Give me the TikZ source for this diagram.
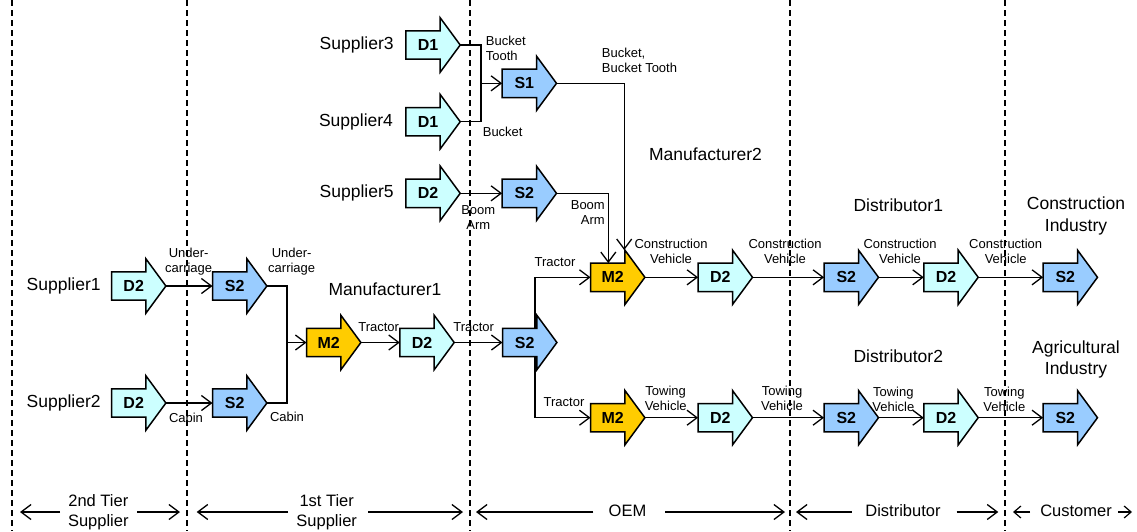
\documentclass[tikz,border=0pt]{standalone}
\usepackage{fontspec}
\setmainfont{Liberation Sans}
\usetikzlibrary{arrows.meta}
\pgfdeclarelayer{background}
\pgfsetlayers{background,main}

\definecolor{dfill}{HTML}{CCFFFF}
\definecolor{sfill}{HTML}{99CCFF}
\definecolor{mfill}{HTML}{FFCC00}

\tikzset{
  boxbase/.style={rectangle, minimum width=54pt, minimum height=28pt, inner sep=0pt,
                  font=\fontsize{16}{18}\selectfont\bfseries},
  boxline/.style={draw=black, line width=1.5pt, line join=miter},
  link/.style={line width=1.3pt},
  flow/.style={line width=1.3pt, -{Straight Barb[length=10pt,width=15pt]}},
  span/.style={line width=1.3pt, -{Straight Barb[length=10pt,width=15pt]}},
  tinyspan/.style={line width=1.2pt, -{Straight Barb[length=7pt,width=12pt]}},
  divider/.style={line width=1.2pt, dash pattern=on 6pt off 4pt},
  small/.style={font=\fontsize{13}{15}\selectfont, align=center, inner sep=0pt},
  big/.style={font=\fontsize{17.5}{21.5}\selectfont, align=center, inner sep=0pt},
  phase/.style={font=\fontsize{16.5}{19.5}\selectfont, align=center, inner sep=0pt},
}

% block arrow: name, left x, centre y, fill colour, text
\newcommand\flowbox[5]{%
  \node[boxbase] (#1) at (#2+27,#3) {\hspace*{-10pt}#5};
  \begin{pgfonlayer}{background}
    \filldraw[boxline, fill=#4] (#1.south west)
      -- ([xshift=-20pt]#1.south east)
      -- ([xshift=-20pt,yshift=-13pt]#1.south east)
      -- (#1.east)
      -- ([xshift=-20pt,yshift=13pt]#1.north east)
      -- ([xshift=-20pt]#1.north east)
      -- (#1.north west) -- cycle;
  \end{pgfonlayer}
}

\begin{document}
\begin{tikzpicture}[x=1pt,y=-1pt]
\useasboundingbox (0,0) rectangle (1137,531);
\begin{pgfonlayer}{background}
  \fill[white] (0,0) rectangle (1137,531);
\end{pgfonlayer}

% stage dividers
\foreach \xd in {12,187,470,790,1005}
  \draw[divider] (\xd,0) -- (\xd,531);

% ---- first and second tier suppliers
\flowbox{supthreed}{406}{45}{dfill}{D1}
\flowbox{supfourd}{406}{121.7}{dfill}{D1}
\flowbox{sone}{502.3}{83.3}{sfill}{S1}
\flowbox{supfived}{406}{193.3}{dfill}{D2}
\flowbox{stwotop}{502.3}{193.3}{sfill}{S2}

\flowbox{suponed}{111.7}{286}{dfill}{D2}
\flowbox{suptwod}{111.7}{403}{dfill}{D2}
\flowbox{sa}{212.7}{286}{sfill}{S2}
\flowbox{sb}{212.7}{403}{sfill}{S2}
\flowbox{ma}{306.7}{342.5}{mfill}{M2}
\flowbox{da}{400}{342.5}{dfill}{D2}
\flowbox{so}{502.7}{342.5}{sfill}{S2}

% ---- construction vehicle chain
\flowbox{mu}{590.7}{277.3}{mfill}{M2}
\flowbox{du}{698.3}{277.3}{dfill}{D2}
\flowbox{sdu}{824.3}{277.3}{sfill}{S2}
\flowbox{ddu}{924}{277.3}{dfill}{D2}
\flowbox{scu}{1043.3}{277.3}{sfill}{S2}

% ---- towing vehicle chain
\flowbox{ml}{590.7}{417.7}{mfill}{M2}
\flowbox{dl}{698.3}{417.7}{dfill}{D2}
\flowbox{sdl}{824.3}{417.7}{sfill}{S2}
\flowbox{ddl}{924}{417.7}{dfill}{D2}
\flowbox{scl}{1043.3}{417.7}{sfill}{S2}

% ---- connectors
\coordinate (jt) at (481,83.3);
\draw[link] (supthreed.east) -| (jt);
\draw[link] (supfourd.east) -| (jt);
\draw[flow] (jt) -- (sone.west);
\draw[flow] (supfived.east) -- (stwotop.west);
\coordinate (muhead) at ([xshift=6.5pt,yshift=13pt]mu.north);
\coordinate (mutop) at ([xshift=-9.4pt]mu.north);
\draw[flow] (sone.east) -| (muhead);
\draw[flow] (stwotop.east) -| (mutop);

\draw[flow] (suponed.east) -- (sa.west);
\draw[flow] (suptwod.east) -- (sb.west);
\coordinate (jl) at (287,342.5);
\draw[link] (sa.east) -| (jl);
\draw[link] (sb.east) -| (jl);
\draw[flow] (jl) -- (ma.west);
\draw[flow] (ma.east) -- (da.west);
\draw[flow] (da.east) -- (so.west);
\coordinate (soup) at ([xshift=5.3pt]so.north);
\coordinate (sodown) at ([xshift=5.3pt]so.south);
\draw[flow] (soup) |- (mu.west);
\draw[flow] (sodown) |- (ml.west);

\draw[flow] (mu.east) -- (du.west);
\draw[flow] (du.east) -- (sdu.west);
\draw[flow] (sdu.east) -- (ddu.west);
\draw[flow] (ddu.east) -- (scu.west);
\draw[flow] (ml.east) -- (dl.west);
\draw[flow] (dl.east) -- (sdl.west);
\draw[flow] (sdl.east) -- (ddl.west);
\draw[flow] (ddl.east) -- (scl.west);

% ---- company names
\node[big] (nsup1) at (63.7,286) {Supplier1};
\node[big] (nsup2) at (63.7,403) {Supplier2};
\node[big] (nsup3) at (356.7,45) {Supplier3};
\node[big] (nsup4) at (356,121.7) {Supplier4};
\node[big] (nsup5) at (356.7,193.3) {Supplier5};
\node[big] (nman1) at (385,289) {Manufacturer1};
\node[big] (nman2) at (705.5,154) {Manufacturer2};
\node[big] (ndis1) at (898.3,205) {Distributor1};
\node[big] (ndis2) at (898.3,356) {Distributor2};
\node[big] (ncons) at (1076,216) {Construction\\Industry};
\node[big] (nagri) at (1076,359.5) {Agricultural\\Industry};

% ---- product labels
\node[small] (lu1) at (188.7,261.5) {Under-\\carriage};
\node[small] (lu2) at (291.7,261.5) {Under-\\carriage};
\node[small] (lc1) at (186,418) {Cabin};
\node[small] (lc2) at (287,417) {Cabin};
\node[small] (lt1) at (378.7,326.7) {Tractor};
\node[small] (lt2) at (473.7,326.7) {Tractor};
\node[small] (lt3) at (555,262.3) {Tractor};
\node[small] (lt4) at (564,401.7) {Tractor};
\node[small] (lcv1) at (671,251.7) {Construction\\Vehicle};
\node[small] (lcv2) at (785,251.7) {Construction\\Vehicle};
\node[small] (lcv3) at (900,251.3) {Construction\\Vehicle};
\node[small] (lcv4) at (1005.7,251.3) {Construction\\Vehicle};
\node[small] (ltv1) at (665.7,398.7) {Towing\\Vehicle};
\node[small] (ltv2) at (782,398.7) {Towing\\Vehicle};
\node[small] (ltv3) at (893.3,399.2) {Towing\\Vehicle};
\node[small] (ltv4) at (1004.3,399.2) {Towing\\Vehicle};
\node[small, align=left, anchor=west] (lbt) at (485.7,48.7) {Bucket\\Tooth};
\node[small] (lbk) at (502.7,131.7) {Bucket};
\node[small, align=left, anchor=west] (lbbt) at (601.7,60) {Bucket,\\Bucket Tooth};
\node[small] (lba1) at (478.3,217.8) {Boom\\Arm};
\node[small, align=right, anchor=east] (lba2) at (605,213) {Boom\\Arm};

% ---- supply chain stages
\node[phase] (ph1) at (98.3,512) {2nd Tier\\Supplier};
\node[phase] (ph2) at (326.7,512) {1st Tier\\Supplier};
\node[phase] (ph3) at (627.5,511) {OEM};
\node[phase] (ph4) at (903,511) {Distributor};
\node[phase] (ph5) at (1076,511) {Customer};

\coordinate (ph1a) at (60,512);    \coordinate (ph1l) at (20,512);
\coordinate (ph1b) at (137,512);   \coordinate (ph1r) at (180,512);
\coordinate (ph2a) at (288,512);   \coordinate (ph2l) at (196.7,512);
\coordinate (ph2b) at (368,512);   \coordinate (ph2r) at (463,512);
\coordinate (ph3a) at (593.3,512); \coordinate (ph3l) at (476,512);
\coordinate (ph3b) at (665,512);   \coordinate (ph3r) at (785,512);
\coordinate (ph4a) at (851.7,512); \coordinate (ph4l) at (796,512);
\coordinate (ph4b) at (956.7,512); \coordinate (ph4r) at (998.3,512);
\coordinate (ph5a) at (1030,512);  \coordinate (ph5l) at (1013,512);
\coordinate (ph5b) at (1118,512);  \coordinate (ph5r) at (1132,512);
\draw[span] (ph1a) -- (ph1l);
\draw[span] (ph1b) -- (ph1r);
\draw[span] (ph2a) -- (ph2l);
\draw[span] (ph2b) -- (ph2r);
\draw[span] (ph3a) -- (ph3l);
\draw[span] (ph3b) -- (ph3r);
\draw[span] (ph4a) -- (ph4l);
\draw[span] (ph4b) -- (ph4r);
\draw[tinyspan] (ph5a) -- (ph5l);
\draw[tinyspan] (ph5b) -- (ph5r);
\end{tikzpicture}
\end{document}
